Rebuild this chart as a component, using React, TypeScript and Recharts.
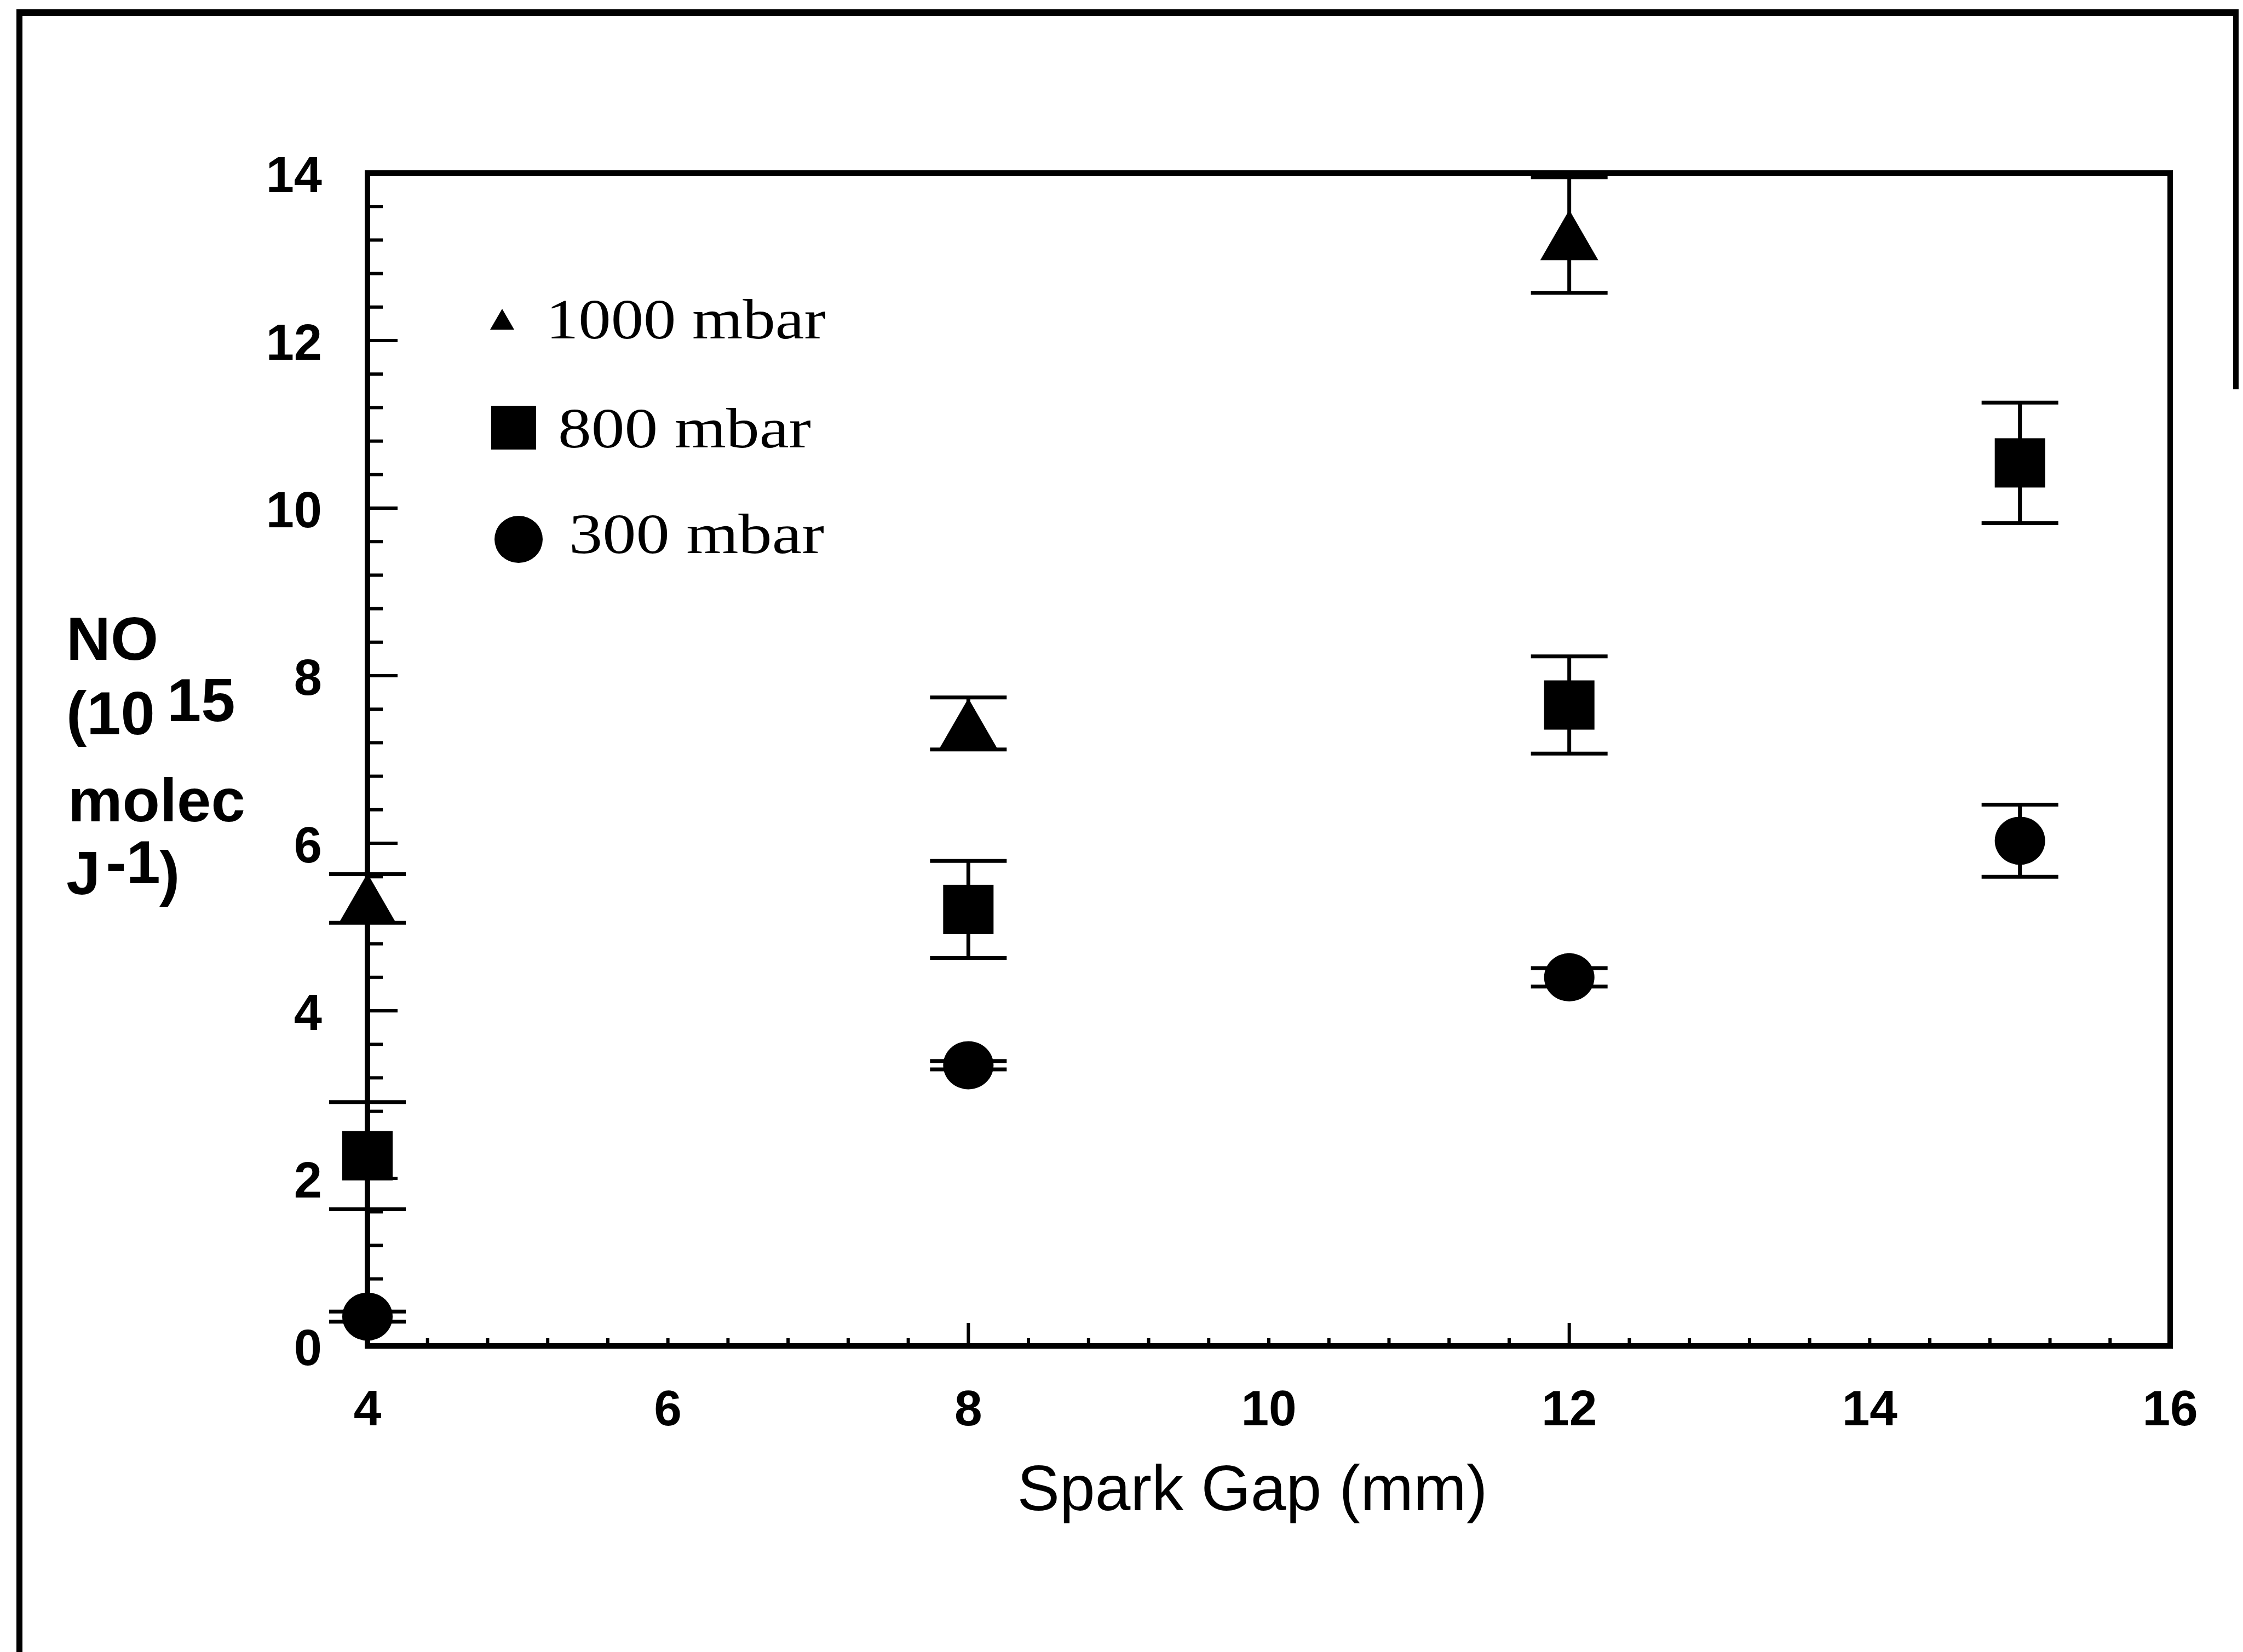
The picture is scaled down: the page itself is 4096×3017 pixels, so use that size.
import React from 'react';
import { ScatterChart, Scatter, XAxis, YAxis, ErrorBar, ReferenceArea, Legend } from 'recharts';

// values
const GAP_1000 = [4, 8, 12];
const NO_1000 = [5.34, 7.43, 13.26];
const ERR_1000 = [0.29, 0.31, 0.69];

const GAP_800 = [4, 8, 12, 15];
const NO_800 = [2.27, 5.21, 7.65, 10.54];
const ERR_800 = [0.64, 0.58, 0.58, 0.72];

const GAP_300 = [4, 8, 12, 15];
const NO_300 = [0.35, 3.35, 4.4, 6.03];
const ERR_300 = [0.06, 0.05, 0.11, 0.43];

const SERIES_NAMES = ['1000 mbar', '800 mbar', '300 mbar'];
const X_LABELS = [4, 6, 8, 10, 12, 14, 16];
const Y_LABELS = [0, 2, 4, 6, 8, 10, 12, 14];
const X_MAJOR = [4, 8, 12, 16];

const rows = (xs: number[], ys: number[], es: number[]) =>
  xs.map((x, i) => ({ x, y: ys[i], err: es[i] }));

// minor tick marks every 0.4 units
const steps = (from: number, to: number) => {
  const out: number[] = [];
  for (let k = 0; from + k * 0.4 <= to + 1e-9; k++) out.push(Math.round((from + k * 0.4) * 10) / 10);
  return out;
};
const X_TICKS = steps(4, 16);
const Y_TICKS = steps(0, 14);

const W = 4096;
const H = 3017;
const SANS = '"Liberation Sans", Arial, sans-serif';
const SERIF = '"Liberation Serif", "Times New Roman", serif';
const has = (list: number[], v: number) => list.some((t) => Math.abs(t - v) < 1e-6);

const XTick = (props: any) => {
  const { x, y, payload } = props;
  const v = payload.value;
  const len = has(X_MAJOR, v) ? 42 : 14;
  return (
    <g>
      <line x1={x} y1={y} x2={x} y2={y - len} stroke="#000" strokeWidth={6} />
      {has(X_LABELS, v) && (
        <text x={x} y={y + 145} textAnchor="middle" fontFamily={SANS} fontWeight="bold" fontSize={91} fill="#000">
          {v}
        </text>
      )}
    </g>
  );
};

const YTick = (props: any) => {
  const { x, y, payload } = props;
  const v = payload.value;
  const major = has(Y_LABELS, v);
  return (
    <g>
      <line x1={x} y1={y} x2={x + (major ? 55 : 28)} y2={y} stroke="#000" strokeWidth={6} />
      {major && (
        <text x={x - 83} y={y + 35} textAnchor="end" fontFamily={SANS} fontWeight="bold" fontSize={92} fill="#000">
          {v}
        </text>
      )}
    </g>
  );
};

const Triangle = (p: any) => (
  <polygon points={`${p.cx},${p.cy - 46} ${p.cx + 53},${p.cy + 46} ${p.cx - 53},${p.cy + 46}`} fill="#000" />
);
const Square = (p: any) => <rect x={p.cx - 46} y={p.cy - 45} width={92} height={90} fill="#000" />;
const Dot = (p: any) => <ellipse cx={p.cx} cy={p.cy} rx={46} ry={44} fill="#000" />;

const YLabel = () => (
  <g fontFamily={SANS} fontWeight="bold" fontSize={112} fill="#000">
    <text x={121} y={1205}>NO</text>
    <text x={121} y={1341}>
      (10
      <tspan dx={22} dy={-24}>15</tspan>
    </text>
    <text x={124} y={1500}>molec</text>
    <text x={121} y={1633}>
      J<tspan dx={10} dy={-20}>-1</tspan>
      <tspan dx={-2} dy={20}>)</tspan>
    </text>
  </g>
);

const XLabel = () => (
  <text x={2287} y={2758} textAnchor="middle" fontFamily={SANS} fontSize={117} fill="#000" textLength={859} lengthAdjust="spacingAndGlyphs">
    Spark Gap (mm)
  </text>
);

const LegendBox = () => (
  <svg width={700} height={540} style={{ overflow: 'visible' }}>
    <polygon points="57,44 79,82 35,82" fill="#000" />
    <text x={137} y={98} fontFamily={SERIF} fontSize={104} fill="#000" textLength={511} lengthAdjust="spacingAndGlyphs">
      {SERIES_NAMES[0]}
    </text>
    <rect x={37} y={221} width={82} height={80} fill="#000" />
    <text x={159} y={297} fontFamily={SERIF} fontSize={104} fill="#000" textLength={462} lengthAdjust="spacingAndGlyphs">
      {SERIES_NAMES[1]}
    </text>
    <ellipse cx={87} cy={465} rx={44} ry={43} fill="#000" />
    <text x={179} y={490} fontFamily={SERIF} fontSize={104} fill="#000" textLength={466} lengthAdjust="spacingAndGlyphs">
      {SERIES_NAMES[2]}
    </text>
  </svg>
);

const App: React.FC = () => {
  return (
    <div style={{ position: 'absolute', left: 0, top: 0, width: W, height: H, background: '#fff', overflow: 'hidden' }}>
      {/* page frame of the scan */}
      <div style={{ position: 'absolute', left: 30, top: 17, width: 4058, height: 12, background: '#000' }} />
      <div style={{ position: 'absolute', left: 30, top: 17, width: 11, height: 3010, background: '#000' }} />
      <div style={{ position: 'absolute', left: 4078, top: 17, width: 10, height: 694, background: '#000' }} />
      <ScatterChart width={W} height={H} margin={{ top: 316, right: 133, bottom: 459, left: 571 }}>
        <XAxis
          type="number"
          dataKey="x"
          domain={[4, 16]}
          ticks={X_TICKS}
          interval={0}
          height={100}
          axisLine={false}
          tickLine={false}
          tickSize={0}
          tickMargin={0}
          tick={<XTick />}
          label={{ content: XLabel }}
        />
        <YAxis
          type="number"
          dataKey="y"
          domain={[0, 14]}
          ticks={Y_TICKS}
          interval={0}
          width={100}
          axisLine={false}
          tickLine={false}
          tickSize={0}
          tickMargin={0}
          tick={<YTick />}
          label={{ content: YLabel }}
        />
        <ReferenceArea x1={4} x2={16} y1={0} y2={14} fill="none" fillOpacity={0} stroke="#000" strokeWidth={10} />
        <Legend
          layout="vertical"
          align="center"
          verticalAlign="middle"
          content={LegendBox}
          wrapperStyle={{ left: 860, top: 520, width: 700, height: 540 }}
        />
        <Scatter name={SERIES_NAMES[0]} data={rows(GAP_1000, NO_1000, ERR_1000)} shape={Triangle} isAnimationActive={false}>
          <ErrorBar dataKey="err" direction="y" width={70} strokeWidth={7} stroke="#000" isAnimationActive={false} />
        </Scatter>
        <Scatter name={SERIES_NAMES[1]} data={rows(GAP_800, NO_800, ERR_800)} shape={Square} isAnimationActive={false}>
          <ErrorBar dataKey="err" direction="y" width={70} strokeWidth={7} stroke="#000" isAnimationActive={false} />
        </Scatter>
        <Scatter name={SERIES_NAMES[2]} data={rows(GAP_300, NO_300, ERR_300)} shape={Dot} isAnimationActive={false}>
          <ErrorBar dataKey="err" direction="y" width={70} strokeWidth={7} stroke="#000" isAnimationActive={false} />
        </Scatter>
      </ScatterChart>
    </div>
  );
};

export default App;
